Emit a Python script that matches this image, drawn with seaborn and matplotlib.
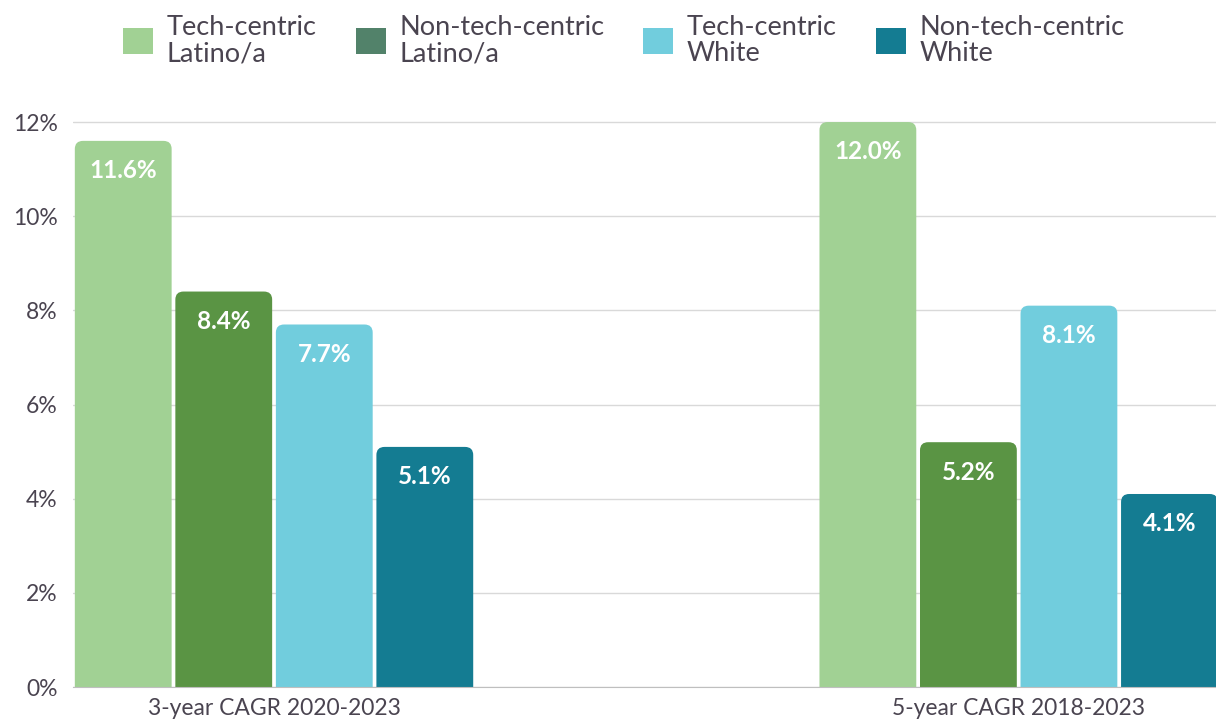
import pandas as pd
import matplotlib.pyplot as plt
import seaborn as sns
from matplotlib.patches import FancyBboxPatch, Patch

# Data
periods = ["3-year CAGR 2020-2023", "5-year CAGR 2018-2023"]
groups = ["Tech-centric\nLatino/a", "Non-tech-centric\nLatino/a",
          "Tech-centric\nWhite", "Non-tech-centric\nWhite"]
tech_latino = [11.6, 12.0]
nontech_latino = [8.4, 5.2]
tech_white = [7.7, 8.1]
nontech_white = [5.1, 4.1]

bar_colors = ["#a1d194", "#5a9444", "#71cddd", "#147c92"]
legend_colors = ["#a1d194", "#52826a", "#71cddd", "#147c92"]
text_color = "#4a4450"

rows = []
for g, vals in zip(groups, [tech_latino, nontech_latino, tech_white, nontech_white]):
    for p, v in zip(periods, vals):
        rows.append({"Period": p, "Group": g, "CAGR": v})
df = pd.DataFrame(rows)

sns.set_style("white")
plt.rcParams["font.family"] = ["Lato", "DejaVu Sans"]

fig = plt.figure(figsize=(12.16, 7.2), dpi=100)
ax = fig.add_axes([0.060, 0.0458, 0.940, 0.786])

sns.barplot(data=df, x="Period", y="CAGR", hue="Group", order=periods,
            hue_order=groups, palette=bar_colors, saturation=1, width=0.54,
            gap=0.037, errorbar=None, legend=False, ax=ax)

ax.set_xlim(-0.27, 1.265)
ax.set_ylim(0, 12.02)

# Replace bars with top-rounded versions
bars = list(ax.patches)
for bar in bars:
    x, w, h = bar.get_x(), bar.get_width(), bar.get_height()
    color = bar.get_facecolor()
    bar.remove()
    rb = FancyBboxPatch((x, -1), w, h + 1,
                        boxstyle="round,pad=0,rounding_size=0.011",
                        mutation_aspect=15.5, facecolor=color,
                        edgecolor="none", zorder=2)
    ax.add_patch(rb)
    ax.annotate(f"{h:.1f}%", (x + w / 2, h), xytext=(0, -21.5),
                textcoords="offset points", ha="center", va="center",
                color="white", fontsize=17.5, fontweight="bold", zorder=3)

ax.set_yticks(range(0, 13, 2))
ax.set_yticklabels([f"{t}%" for t in range(0, 13, 2)])
ax.yaxis.grid(True, color="#d9d9d9", linewidth=1)
ax.set_axisbelow(True)
ax.tick_params(axis="both", length=0, labelsize=16.5, colors=text_color)
ax.tick_params(axis="y", pad=11)
ax.tick_params(axis="x", pad=8)
for s in ["top", "right", "left"]:
    ax.spines[s].set_visible(False)
ax.spines["bottom"].set_color("#bfbfbf")
ax.set_xlabel("")
ax.set_ylabel("")

handles = [Patch(facecolor=c, edgecolor="none") for c in legend_colors]
leg = fig.legend(handles, groups, loc="upper center", bbox_to_anchor=(0.513, 1.013),
                 ncol=4, frameon=False, fontsize=19.5, handlelength=1.1,
                 handleheight=1.1, handletextpad=0.5, columnspacing=1.45,
                 labelcolor=text_color)
for t in leg.get_texts():
    t.set_linespacing(1.05)

fig.savefig("out.png", dpi=100)
